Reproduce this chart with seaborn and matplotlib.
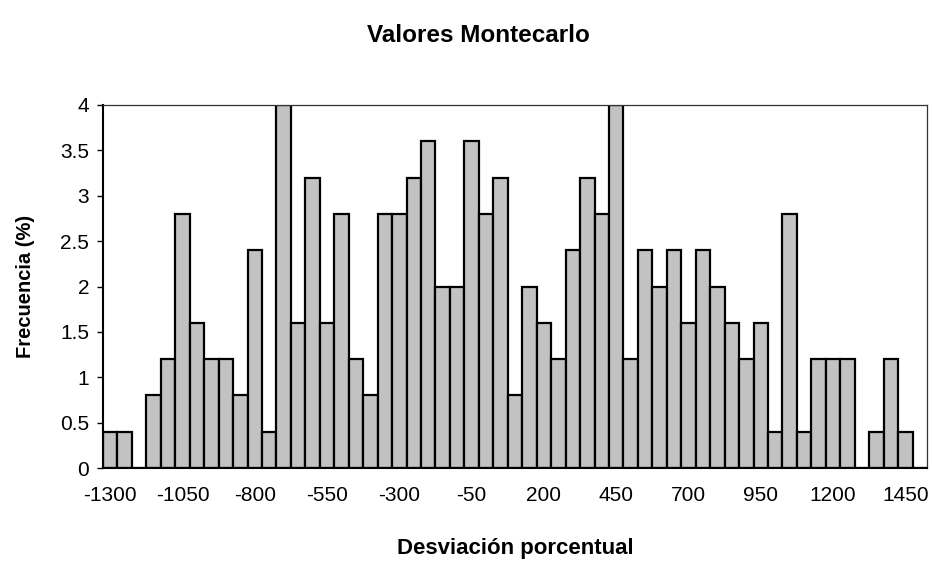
import matplotlib
matplotlib.use("Agg")
import matplotlib.pyplot as plt
import seaborn as sns
import pandas as pd

# Data
categories = list(range(-1300, 1501, 50))
frecuencia = [0.4, 0.4, 0.0, 0.8, 1.2, 2.8, 1.6, 1.2, 1.2, 0.8,
              2.4, 0.4, 4.0, 1.6, 3.2, 1.6, 2.8, 1.2, 0.8, 2.8,
              2.8, 3.2, 3.6, 2.0, 2.0, 3.6, 2.8, 3.2, 0.8, 2.0,
              1.6, 1.2, 2.4, 3.2, 2.8, 4.0, 1.2, 2.4, 2.0, 2.4,
              1.6, 2.4, 2.0, 1.6, 1.2, 1.6, 0.4, 2.8, 0.4, 1.2,
              1.2, 1.2, 0.0, 0.4, 1.2, 0.4, 0.0]
tick_labels = ["-1300", "-1050", "-800", "-550", "-300", "-50",
               "200", "450", "700", "950", "1200", "1450"]
y_ticks = [0, 0.5, 1, 1.5, 2, 2.5, 3, 3.5, 4]

sns.set_theme(style="white")
plt.rcParams['font.family'] = ['Liberation Sans', 'DejaVu Sans']
plt.rcParams['text.color'] = 'black'
plt.rcParams['axes.labelcolor'] = 'black'
plt.rcParams['xtick.color'] = 'black'
plt.rcParams['ytick.color'] = 'black'

df = pd.DataFrame({"Desviación": [str(c) for c in categories],
                   "Frecuencia": frecuencia})

fig = plt.figure(figsize=(9.32, 5.61), dpi=100)
ax = fig.add_axes([103/932, 1 - 468/561, (927-103)/932, (468-105)/561])

sns.barplot(data=df, x="Desviación", y="Frecuencia", ax=ax,
            color="#c2c2c2", width=1.0, edgecolor="black", linewidth=1.6,
            saturation=1)

ax.set_xlim(-0.5, len(categories) - 0.5)
ax.set_ylim(0, 4)

pos = [categories.index(int(t)) for t in tick_labels]
ax.set_xticks(pos)
ax.set_xticklabels(tick_labels, fontsize=15)
ax.tick_params(axis="x", length=0, pad=13)

ax.set_yticks(y_ticks)
ax.set_yticklabels([f"{v:g}" for v in y_ticks], fontsize=15)
ax.tick_params(axis="y", length=4, width=1, direction="out", pad=6, left=True)

for side in ["left", "bottom"]:
    ax.spines[side].set_color("black")
    ax.spines[side].set_linewidth(1.5)
for side in ["top", "right"]:
    ax.spines[side].set_color("#333333")
    ax.spines[side].set_linewidth(0.9)

ax.set_xlabel("Desviación porcentual", fontsize=16, fontweight="bold")
ax.set_ylabel("Frecuencia (%)", fontsize=14.5, fontweight="bold")
ax.xaxis.set_label_coords(0.5, -0.193)
ax.yaxis.set_label_coords(-0.083, 0.5)

fig.text(0.513, 0.937, "Valores Montecarlo", fontsize=17.5, fontweight="bold",
         ha="center", va="center")

fig.savefig("out.png", dpi=100)
